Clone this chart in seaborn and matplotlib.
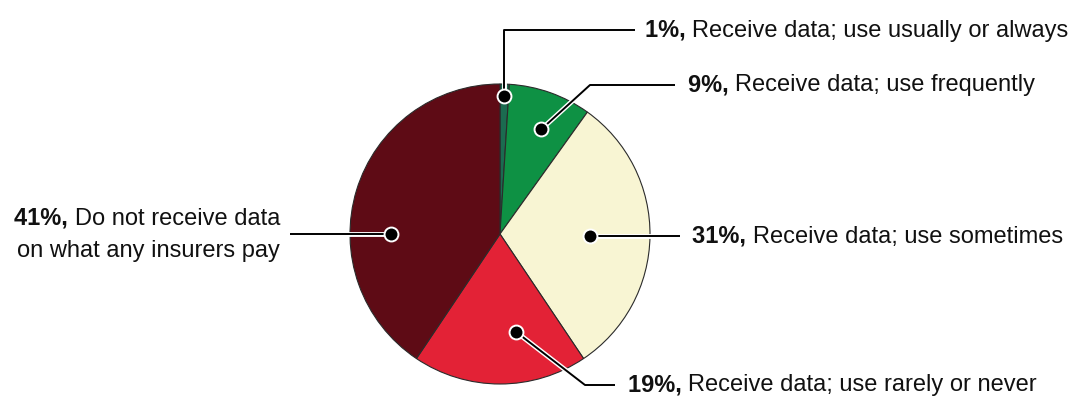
import numpy as np
import matplotlib
matplotlib.use("Agg")
import matplotlib.pyplot as plt
import matplotlib.patheffects as pe
import seaborn as sns

# data
shares = [1, 9, 31, 19, 41]
pct_labels = ["1%,", "9%,", "31%,", "19%,", "41%,"]
descriptions = [
    "Receive data; use usually or always",
    "Receive data; use frequently",
    "Receive data; use sometimes",
    "Receive data; use rarely or never",
    "Do not receive data\non what any insurers pay",
]
colors = ["#1b6b50", "#0e9144", "#f8f5d3", "#e32236", "#5e0b15"]

sns.set_theme(style="white")
plt.rcParams["font.family"] = ["Liberation Sans", "DejaVu Sans"]
plt.rcParams["text.color"] = "#111111"

W, H = 1070, 396
fig = plt.figure(figsize=(W / 100, H / 100), dpi=100)
ax = fig.add_axes([0, 0, 1, 1])

cx, cy, R = 500, 162, 150
wedges, _ = ax.pie(shares, colors=colors, startangle=90, counterclock=False,
                   center=(cx, cy), radius=R, frame=True,
                   wedgeprops=dict(edgecolor="#2b2b2b", linewidth=0.8))
ax.set_xlim(0, W)
ax.set_ylim(0, H)
ax.set_aspect("equal")
ax.axis("off")

# layout: dot (math angle deg, radius fraction), path points, text anchor
dots = [(88.2, 0.92), (68.5, 0.75), (-1.5, 0.6), (-80.8, 0.66), (180, 0.73)]
paths = [
    [(None, 366), (635, 366)],
    [(590, 311), (675, 311)],
    [(680, None)],
    [(585, 11), (615, 11)],
    [(290, None)],
]
text_pos = [(645, 366, "left"), (688, 311, "left"), (692, 156, "left"),
            (628, 11, "left"), (280, 161, "right")]

fs = 17
halo = [pe.Stroke(linewidth=3.5, foreground="white"), pe.Normal()]
for i in range(len(shares)):
    ang, rf = dots[i]
    dx = cx + R * rf * np.cos(np.radians(ang))
    dy = cy + R * rf * np.sin(np.radians(ang))
    xs, ys = [dx], [dy]
    for px, py in paths[i]:
        xs.append(dx if px is None else px)
        ys.append(dy if py is None else py)
    ax.plot(xs, ys, color="black", lw=1.4, solid_capstyle="butt",
            path_effects=halo, zorder=5)
    ax.plot(dx, dy, "o", ms=10, mfc="black", mec="white", mew=1.4, zorder=6)

    tx, ty, ha = text_pos[i]
    ty = ys[-1] if ha == "left" else ty
    if ha == "left":
        t = ax.text(tx, ty, pct_labels[i] + " ", fontsize=fs, fontweight="bold",
                    ha="left", va="center")
        ax.annotate(descriptions[i], xy=(1, 0), xycoords=t, fontsize=fs,
                    ha="left", va="bottom")
    else:
        first, second = descriptions[i].split("\n")
        t1 = ax.text(tx, ty + 16, first, fontsize=fs, ha="right", va="center")
        ax.annotate(pct_labels[i] + " ", xy=(0, 0), xycoords=t1, fontsize=fs,
                    fontweight="bold", ha="right", va="bottom")
        ax.text(tx, ty - 16, second, fontsize=fs, ha="right", va="center")

fig.savefig("out.png", dpi=100)
